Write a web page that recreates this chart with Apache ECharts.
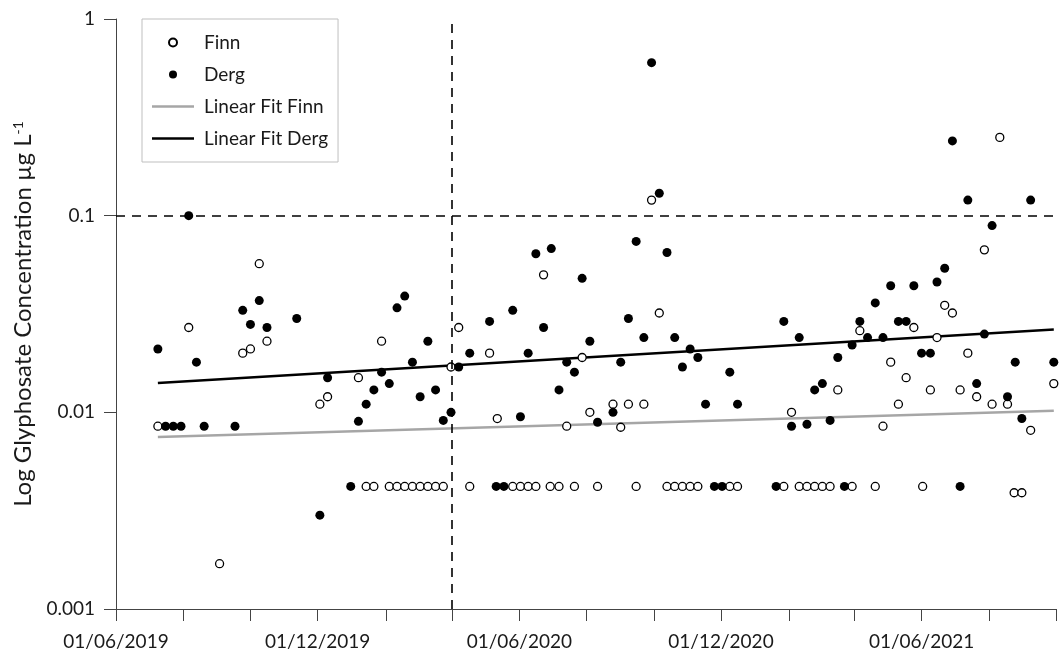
<!DOCTYPE html>
<html>
<head>
<meta charset="utf-8">
<script src="https://cdn.jsdelivr.net/npm/echarts@6/dist/echarts.min.js"></script>
<style>
html, body { margin: 0; padding: 0; background: #fff; }
#chart { width: 1059px; height: 655px; }
</style>
</head>
<body>
<div id="chart"></div>
<script>
// Finn (open circles)
var finnDates = [
    '2019-07-09', '2019-08-06', '2019-09-03', '2019-09-24', '2019-10-01', '2019-10-09', '2019-10-16',
    '2019-12-03', '2019-12-10', '2020-01-07', '2020-01-14', '2020-01-21', '2020-01-28',
    '2020-02-04', '2020-02-11', '2020-02-18', '2020-02-25', '2020-03-03', '2020-03-10', '2020-03-17',
    '2020-03-24', '2020-03-31', '2020-04-07', '2020-04-17', '2020-05-05', '2020-05-12', '2020-05-26',
    '2020-06-02', '2020-06-09', '2020-06-16', '2020-06-23', '2020-06-29', '2020-07-07', '2020-07-14',
    '2020-07-21', '2020-07-28', '2020-08-04', '2020-08-11', '2020-08-25', '2020-09-01', '2020-09-08',
    '2020-09-15', '2020-09-22', '2020-09-29', '2020-10-06', '2020-10-13', '2020-10-20', '2020-10-27',
    '2020-11-03', '2020-11-10', '2020-12-09', '2020-12-16', '2021-01-27', '2021-02-03', '2021-02-10',
    '2021-02-17', '2021-02-24', '2021-03-03', '2021-03-10', '2021-03-17', '2021-03-30', '2021-04-06',
    '2021-04-20', '2021-04-27', '2021-05-04', '2021-05-11', '2021-05-18', '2021-05-25', '2021-06-02',
    '2021-06-09', '2021-06-15', '2021-06-22', '2021-06-29', '2021-07-06', '2021-07-13', '2021-07-21',
    '2021-07-28', '2021-08-04', '2021-08-11', '2021-08-18', '2021-08-24', '2021-08-31', '2021-09-08',
    '2021-09-29'
];
var finnValues = [
    0.0085, 0.027, 0.0017, 0.020, 0.021, 0.057, 0.023,
    0.011, 0.012, 0.015, 0.0042, 0.0042, 0.023,
    0.0042, 0.0042, 0.0042, 0.0042, 0.0042, 0.0042, 0.0042,
    0.0042, 0.017, 0.027, 0.0042, 0.020, 0.0093, 0.0042,
    0.0042, 0.0042, 0.0042, 0.050, 0.0042, 0.0042, 0.0085,
    0.0042, 0.019, 0.010, 0.0042, 0.011, 0.0084, 0.011,
    0.0042, 0.011, 0.12, 0.032, 0.0042, 0.0042, 0.0042,
    0.0042, 0.0042, 0.0042, 0.0042, 0.0042, 0.010, 0.0042,
    0.0042, 0.0042, 0.0042, 0.0042, 0.013, 0.0042, 0.026,
    0.0042, 0.0085, 0.018, 0.011, 0.015, 0.027, 0.0042,
    0.013, 0.024, 0.035, 0.032, 0.013, 0.020, 0.012,
    0.067, 0.011, 0.25, 0.011, 0.0039, 0.0039, 0.0081,
    0.014
];

// Derg (filled circles)
var dergDates = [
    '2019-07-09', '2019-07-16', '2019-07-23', '2019-07-30', '2019-08-06', '2019-08-13', '2019-08-20',
    '2019-09-17', '2019-09-24', '2019-10-01', '2019-10-09', '2019-10-16', '2019-11-12', '2019-12-03',
    '2019-12-10', '2019-12-31', '2020-01-07', '2020-01-14', '2020-01-21', '2020-01-28', '2020-02-04',
    '2020-02-11', '2020-02-18', '2020-02-25', '2020-03-03', '2020-03-10', '2020-03-17', '2020-03-24',
    '2020-03-31', '2020-04-07', '2020-04-17', '2020-05-05', '2020-05-11', '2020-05-18', '2020-05-26',
    '2020-06-02', '2020-06-09', '2020-06-16', '2020-06-23', '2020-06-30', '2020-07-07', '2020-07-14',
    '2020-07-21', '2020-07-28', '2020-08-04', '2020-08-11', '2020-08-25', '2020-09-01', '2020-09-08',
    '2020-09-15', '2020-09-22', '2020-09-29', '2020-10-06', '2020-10-13', '2020-10-20', '2020-10-27',
    '2020-11-03', '2020-11-10', '2020-11-17', '2020-11-25', '2020-12-02', '2020-12-09', '2020-12-16',
    '2021-01-20', '2021-01-27', '2021-02-03', '2021-02-10', '2021-02-17', '2021-02-24', '2021-03-03',
    '2021-03-10', '2021-03-17', '2021-03-23', '2021-03-30', '2021-04-06', '2021-04-13', '2021-04-20',
    '2021-04-27', '2021-05-04', '2021-05-11', '2021-05-18', '2021-05-25', '2021-06-01', '2021-06-09',
    '2021-06-15', '2021-06-22', '2021-06-29', '2021-07-06', '2021-07-13', '2021-07-21', '2021-07-28',
    '2021-08-04', '2021-08-18', '2021-08-25', '2021-08-31', '2021-09-08', '2021-09-29'
];
var dergValues = [
    0.021, 0.0085, 0.0085, 0.0085, 0.10, 0.018, 0.0085,
    0.0085, 0.033, 0.028, 0.037, 0.027, 0.030, 0.0030,
    0.015, 0.0042, 0.0090, 0.011, 0.013, 0.016, 0.014,
    0.034, 0.039, 0.018, 0.012, 0.023, 0.013, 0.0091,
    0.010, 0.017, 0.020, 0.029, 0.0042, 0.0042, 0.033,
    0.0095, 0.020, 0.064, 0.027, 0.068, 0.013, 0.018,
    0.016, 0.048, 0.023, 0.0089, 0.010, 0.018, 0.030,
    0.074, 0.024, 0.60, 0.13, 0.065, 0.024, 0.017,
    0.021, 0.019, 0.011, 0.0042, 0.0042, 0.016, 0.011,
    0.0042, 0.029, 0.0085, 0.024, 0.0087, 0.013, 0.014,
    0.0091, 0.019, 0.0042, 0.022, 0.029, 0.024, 0.036,
    0.024, 0.044, 0.029, 0.029, 0.044, 0.020, 0.020,
    0.046, 0.054, 0.24, 0.0042, 0.12, 0.014, 0.025,
    0.089, 0.012, 0.018, 0.0093, 0.12, 0.018
];

// linear fits (end points)
var fitFinnDates = ['2019-07-09', '2021-09-29'];
var fitFinnValues = [0.0075, 0.0102];
var fitDergDates = ['2019-07-09', '2021-09-29'];
var fitDergValues = [0.0141, 0.0264];

// reference lines
var limitValue = 0.1;
var markerDate = '2020-04-01';

// axis ticks / labels
var xMin = '2019-06-01';
var xMax = '2021-10-01';
var xTickDates = ['2019-06-01', '2019-08-01', '2019-10-01', '2019-12-01', '2020-02-01', '2020-04-01',
    '2020-06-01', '2020-08-01', '2020-10-01', '2020-12-01', '2021-02-01', '2021-04-01', '2021-06-01',
    '2021-08-01', '2021-10-01'];
var xLabelDates = ['2019-06-01', '2019-12-01', '2020-06-01', '2020-12-01', '2021-06-01'];
var yTickLabels = ['0.001', '0.01', '0.1', '1'];

var font = 'Lato, "Open Sans", sans-serif';
var textColor = '#1a1a1a';
var axisColor = '#444';
var lineIcon = 'path://M0,0L42,0L42,2.5L0,2.5Z';

function ts(d) {
    var p = d.split('-');
    return Date.UTC(+p[0], +p[1] - 1, +p[2]);
}

function pairs(dates, values) {
    return dates.map(function (d, i) {
        return [ts(d), values[i]];
    });
}

function fmtDate(v) {
    var d = new Date(v);
    var dd = ('0' + d.getUTCDate()).slice(-2);
    var mm = ('0' + (d.getUTCMonth() + 1)).slice(-2);
    return dd + '/' + mm + '/' + d.getUTCFullYear();
}

var option = {
    animation: false,
    backgroundColor: '#fff',
    grid: {
        left: 116,
        right: 3,
        top: 19,
        bottom: 46
    },
    legend: {
        orient: 'vertical',
        left: 142,
        top: 19,
        padding: [14, 10, 14, 10],
        itemGap: 13,
        itemWidth: 42,
        itemHeight: 8,
        borderColor: '#bfbfbf',
        borderWidth: 1,
        backgroundColor: '#fff',
        selectedMode: false,
        textStyle: {
            fontFamily: font,
            fontSize: 19,
            color: textColor,
            padding: [0, 0, 0, 5]
        },
        data: [
            {name: 'Finn'},
            {name: 'Derg'},
            {name: 'Linear Fit Finn', icon: lineIcon},
            {name: 'Linear Fit Derg', icon: lineIcon}
        ]
    },
    xAxis: {
        type: 'value',
        min: ts(xMin),
        max: ts(xMax),
        splitLine: {show: false},
        axisLine: {lineStyle: {color: axisColor, width: 1}},
        axisTick: {
            show: true,
            length: 12,
            lineStyle: {color: axisColor, width: 1},
            customValues: xTickDates.map(ts)
        },
        axisLabel: {
            margin: 23,
            fontFamily: font,
            fontSize: 19,
            color: textColor,
            customValues: xLabelDates.map(ts),
            formatter: fmtDate
        }
    },
    yAxis: {
        type: 'log',
        logBase: 10,
        min: 0.001,
        max: 1,
        name: 'Log Glyphosate Concentration µg L{sup|-1}',
        nameLocation: 'middle',
        nameGap: 79,
        nameTextStyle: {
            fontFamily: font,
            fontSize: 24,
            color: textColor,
            rich: {
                sup: {
                    fontFamily: font,
                    fontSize: 14,
                    color: textColor,
                    verticalAlign: 'top'
                }
            }
        },
        splitLine: {show: false},
        minorTick: {show: false},
        axisLine: {show: true, lineStyle: {color: axisColor, width: 1}},
        axisTick: {show: true, length: 12, lineStyle: {color: axisColor, width: 1}},
        axisLabel: {
            margin: 21,
            fontFamily: font,
            fontSize: 19,
            color: textColor,
            formatter: function (v) {
                return yTickLabels[Math.round(Math.log10(v)) + 3];
            }
        }
    },
    series: [
        {
            name: 'Linear Fit Finn',
            type: 'line',
            symbol: 'none',
            silent: true,
            z: 2,
            lineStyle: {color: '#a6a6a6', width: 2.5},
            itemStyle: {color: '#a6a6a6'},
            data: pairs(fitFinnDates, fitFinnValues)
        },
        {
            name: 'Linear Fit Derg',
            type: 'line',
            symbol: 'none',
            silent: true,
            z: 2,
            lineStyle: {color: '#000', width: 2.5},
            itemStyle: {color: '#000'},
            data: pairs(fitDergDates, fitDergValues),
            markLine: {
                silent: true,
                symbol: 'none',
                label: {show: false},
                lineStyle: {color: '#000', type: [9, 7], width: 1.6},
                data: [
                    {yAxis: limitValue},
                    {xAxis: ts(markerDate)}
                ]
            }
        },
        {
            name: 'Finn',
            type: 'scatter',
            symbol: 'circle',
            symbolSize: 8,
            z: 3,
            itemStyle: {color: '#fff', borderColor: '#000', borderWidth: 1.3, opacity: 1},
            emphasis: {disabled: true},
            data: pairs(finnDates, finnValues)
        },
        {
            name: 'Derg',
            type: 'scatter',
            symbol: 'circle',
            symbolSize: 9,
            z: 4,
            itemStyle: {color: '#000', opacity: 1},
            emphasis: {disabled: true},
            data: pairs(dergDates, dergValues)
        }
    ]
};

var chart = echarts.init(document.getElementById('chart'));
chart.setOption(option);
</script>
</body>
</html>
